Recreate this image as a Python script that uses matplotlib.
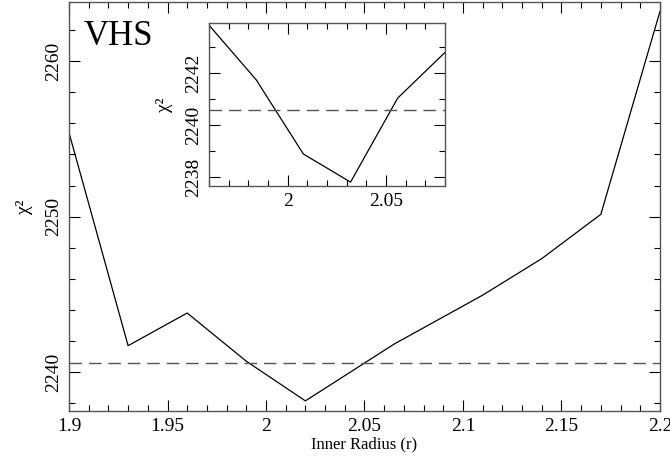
import matplotlib
matplotlib.use("Agg")
import matplotlib.pyplot as plt
from matplotlib.ticker import MultipleLocator

plt.rcParams['font.family'] = ['Liberation Serif', 'DejaVu Serif']

# main scan
radius = [1.90, 1.93, 1.96, 1.99, 2.02, 2.065, 2.11, 2.14, 2.17, 2.20]
chi2 = [2255.4, 2241.7, 2243.8, 2240.7, 2238.15, 2241.8, 2244.95, 2247.3, 2250.15, 2263.2]

# finer scan (inset)
radius_fine = [1.960, 1.984, 2.008, 2.032, 2.056, 2.080]
chi2_fine = [2243.85, 2241.75, 2238.9, 2237.82, 2241.05, 2242.8]

chi2_limit = 2240.6

spine_col = '#555555'


def style_axes(ax, fs):
    for s in ax.spines.values():
        s.set_color(spine_col)
        s.set_linewidth(1.0)
    ax.tick_params(which='both', direction='in', top=True, right=True,
                   color='black', labelsize=fs)
    ax.tick_params(which='major', length=8, width=0.8, pad=5)
    ax.tick_params(which='minor', length=4, width=0.8)
    for lab in ax.get_yticklabels():
        lab.set_rotation(90)
        lab.set_va('center')


fig = plt.figure(figsize=(6.7, 4.61), dpi=100)
ax = fig.add_axes([0.103, 0.1085, 0.882, 0.887])
ax.plot(radius, chi2, color='black', lw=0.9)
ax.axhline(chi2_limit, color='#555555', lw=1.0, ls=(0, (9, 5)))
ax.set_xlim(1.9, 2.2)
ax.set_ylim(2237.5, 2263.8)
ax.xaxis.set_minor_locator(MultipleLocator(0.01))
ax.yaxis.set_major_locator(MultipleLocator(10))
ax.yaxis.set_minor_locator(MultipleLocator(2))
ax.set_xticks([1.9, 1.95, 2.0, 2.05, 2.1, 2.15, 2.2])
ax.set_xticklabels(['1.9', '1.95', '2', '2.05', '2.1', '2.15', '2.2'])
style_axes(ax, 14)
ax.set_xlabel('Inner Radius (r)', fontsize=12, labelpad=1)
ax.set_ylabel('χ²', fontsize=14, labelpad=9)
ax.text(0.025, 0.955, 'VHS', transform=ax.transAxes, fontsize=25,
        va='top', ha='left')

ins = fig.add_axes([0.312, 0.5965, 0.352, 0.3545])
ins.plot(radius_fine, chi2_fine, color='black', lw=0.9)
ins.axhline(chi2_limit, color='#555555', lw=1.0, ls=(0, (9, 5)))
ins.set_xlim(1.96, 2.08)
ins.set_ylim(2237.67, 2243.95)
ins.set_xticks([2.0, 2.05])
ins.set_xticklabels(['2', '2.05'])
ins.xaxis.set_minor_locator(MultipleLocator(0.01))
ins.yaxis.set_major_locator(MultipleLocator(2))
ins.yaxis.set_minor_locator(MultipleLocator(1))
style_axes(ins, 14)
ins.set_ylabel('χ²', fontsize=14, labelpad=9)

fig.savefig('out.png', dpi=100)
